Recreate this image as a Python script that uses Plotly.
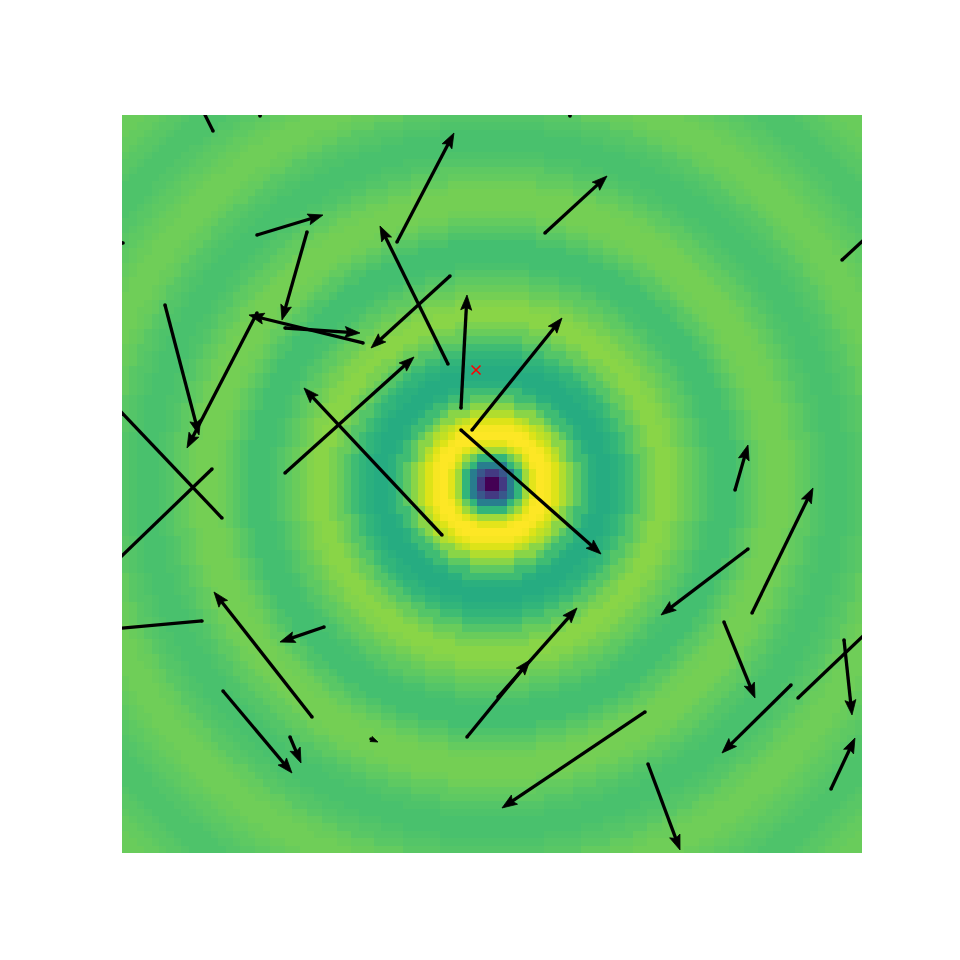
import numpy as np
import plotly.graph_objects as go

# ---- data ----
# radial profile of the field, one value per ring of whole cell-distance from the centre
profile = [0.00, 0.18, 0.45, 0.68, 0.87, 0.96, 1.00, 1.00, 0.96, 0.90,
           0.82, 0.75, 0.69, 0.64, 0.62, 0.62, 0.64, 0.66, 0.69, 0.73,
           0.77, 0.80, 0.82, 0.82, 0.81, 0.79, 0.77, 0.75, 0.73, 0.71,
           0.70, 0.70, 0.70, 0.72, 0.74, 0.76, 0.78, 0.79, 0.79, 0.79,
           0.78, 0.76, 0.75, 0.73, 0.72, 0.71, 0.71, 0.71, 0.72, 0.73,
           0.74, 0.76, 0.77, 0.78, 0.78, 0.78, 0.77, 0.76, 0.75, 0.74,
           0.73, 0.72, 0.72, 0.72, 0.73, 0.74, 0.75, 0.76, 0.77, 0.77,
           0.77, 0.77]
# finer inner profile, one value per half cell of distance (r < 10)
inner_profile = [0.00, 0.00, 0.08, 0.17, 0.27, 0.42, 0.55, 0.66, 0.77, 0.85,
                 0.91, 0.96, 0.99, 1.00, 1.00, 0.99, 0.97, 0.95, 0.91, 0.88]
grid_n = 100

# arrows: tail (x_start, y_start) -> tip (x_end, y_end), data units
x_start = [12.30, 18.65, 60.54, 0.14, 97.30, 91.35, 37.16, 57.16, 18.24, 25.00,
           5.81, 18.24, 22.03, 32.57, 44.32, 44.05, 45.81, 47.30, 45.81, 43.24,
           22.03, 13.51, 12.16, 10.81, 25.68, 27.30, 13.65, 22.70, 33.65, 46.62,
           50.81, 70.68, 71.08, 84.59, 82.84, 85.14, 81.35, 90.41, 97.57, 95.81]
y_start = [97.83, 99.86, 99.86, 82.66, 80.35, 21.00, 82.79, 84.01, 83.74, 84.15,
           74.25, 73.17, 71.14, 69.11, 78.18, 66.26, 60.30, 57.32, 57.32, 43.09,
           51.49, 45.39, 52.03, 31.44, 18.43, 30.62, 21.95, 15.72, 15.45, 15.72,
           21.14, 19.11, 12.06, 41.19, 49.19, 32.52, 31.30, 22.76, 28.86, 8.67]
x_end = [10.14, 18.90, 59.90, -2.97, 103.10, 103.80, 44.86, 65.54, 27.16, 21.62,
         10.41, 8.78, 32.16, 17.16, 33.65, 34.86, 46.62, 59.46, 64.73, 24.59,
         39.46, -2.30, -2.97, -2.97, 12.43, 21.35, 22.97, 24.19, 34.59, 55.14,
         61.49, 51.35, 75.41, 72.84, 84.59, 93.38, 85.54, 81.08, 98.65, 99.05]
y_end = [102.17, 102.70, 102.70, 83.06, 85.77, 32.90, 97.56, 91.73, 86.45, 72.22,
         56.64, 54.88, 70.46, 72.90, 68.43, 84.96, 75.61, 72.49, 40.51, 63.01,
         67.21, 62.06, 37.40, 30.22, 35.37, 28.59, 10.84, 12.20, 15.04, 26.15,
         33.20, 6.10, 0.41, 32.25, 55.28, 49.46, 21.00, 13.55, 18.70, 15.58]

marker_x = [47.84]
marker_y = [65.45]

# ---- layout geometry ----
W, H = 960, 960
ml, mr, mt, mb = 122, 98, 115, 107
sx = (W - ml - mr) / 100.0   # px per data unit
sy = (H - mt - mb) / 100.0

# ---- heatmap ----
c = np.arange(grid_n) + 0.5
X, Y = np.meshgrid(c, c)
R = np.sqrt((X - grid_n / 2) ** 2 + (Y - grid_n / 2) ** 2)
idx = np.clip(np.floor(R).astype(int), 0, len(profile) - 1)
Z = np.array(profile)[idx]
inner = R < 10
Z[inner] = np.array(inner_profile)[np.floor(R[inner] * 2).astype(int)]

viridis = [
    [0.00, "#440154"], [0.10, "#482475"], [0.20, "#414487"], [0.30, "#355f8d"],
    [0.40, "#2a788e"], [0.50, "#21918c"], [0.60, "#22a884"], [0.65, "#2db27d"],
    [0.70, "#44bf70"], [0.75, "#5ec962"], [0.80, "#7ad151"], [0.85, "#a0da39"],
    [0.90, "#bddf26"], [0.95, "#dde318"], [1.00, "#fde725"],
]

fig = go.Figure()
fig.add_trace(go.Heatmap(x=c, y=c, z=Z, zmin=0, zmax=1, colorscale=viridis,
                         zsmooth=False, showscale=False, hoverinfo="skip"))

# ---- arrows ----
HL, HW, NOTCH = 15.0, 11.0, 0.82  # head length/width in px, notch fraction
shaft_x, shaft_y, head_x, head_y = [], [], [], []
for x0, y0, x1, y1 in zip(x_start, y_start, x_end, y_end):
    px0, py0, px1, py1 = x0 * sx, y0 * sy, x1 * sx, y1 * sy
    dx, dy = px1 - px0, py1 - py0
    L = np.hypot(dx, dy)
    ux, uy = dx / L, dy / L
    nx, ny = -uy, ux
    hl = min(HL, L)
    hw = HW * hl / HL
    bx, by = px1 - hl * ux, py1 - hl * uy
    kx, ky = px1 - NOTCH * hl * ux, py1 - NOTCH * hl * uy
    ex, ey = px1 - 0.7 * hl * ux, py1 - 0.7 * hl * uy
    if L > hl:
        shaft_x += [px0 / sx, ex / sx, None]
        shaft_y += [py0 / sy, ey / sy, None]
    pts = [(px1, py1), (bx + nx * hw / 2, by + ny * hw / 2), (kx, ky),
           (bx - nx * hw / 2, by - ny * hw / 2), (px1, py1)]
    head_x += [p[0] / sx for p in pts] + [None]
    head_y += [p[1] / sy for p in pts] + [None]

fig.add_trace(go.Scatter(x=shaft_x, y=shaft_y, mode="lines",
                         line=dict(color="black", width=3.3), hoverinfo="skip"))
fig.add_trace(go.Scatter(x=x_start, y=y_start, mode="markers",
                         marker=dict(color="black", size=3.6), hoverinfo="skip"))
fig.add_trace(go.Scatter(x=head_x, y=head_y, mode="lines", fill="toself",
                         fillcolor="black", line=dict(color="black", width=0.8),
                         hoverinfo="skip"))

fig.add_trace(go.Scatter(x=marker_x, y=marker_y, mode="markers",
                         marker=dict(symbol="x-thin", size=9,
                                     line=dict(color="red", width=1.5)),
                         hoverinfo="skip"))

fig.update_layout(
    width=W, height=H,
    margin=dict(l=ml, r=mr, t=mt, b=mb, pad=0),
    paper_bgcolor="white", plot_bgcolor="white",
    showlegend=False,
    xaxis=dict(range=[0, 100], visible=False, fixedrange=True),
    yaxis=dict(range=[0, 100], visible=False, fixedrange=True),
)

fig.write_html("out.html")
